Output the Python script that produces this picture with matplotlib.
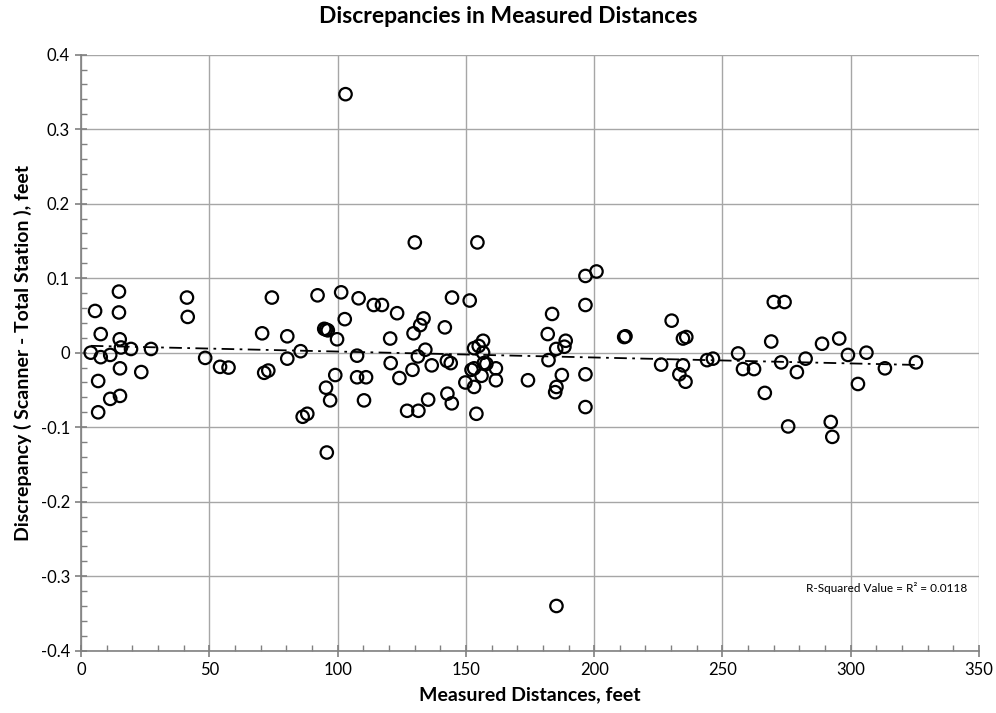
import matplotlib
matplotlib.use("Agg")
import matplotlib.pyplot as plt
import numpy as np
from matplotlib.ticker import MultipleLocator

# measured distance (ft) and scanner - total station discrepancy (ft)
distance = [
    5.5, 14.8, 14.8, 7.7, 15.1, 3.8, 7.7, 11.4, 15.6, 19.5, 27.3, 15.2, 23.5, 6.7, 11.4,
    15.2, 6.7, 41.3, 41.6, 48.4, 54.2, 57.5, 74.4, 70.6, 80.4, 80.4, 71.4, 73.0, 85.6,
    86.4, 88.2, 92.2, 101.4, 108.2, 114.1, 117.3, 123.2, 144.6, 151.5, 102.8, 133.5,
    132.2, 129.6, 141.8, 94.8, 95.5, 96.2, 99.8, 120.5, 107.6, 134.2, 131.3, 120.7,
    136.7, 142.6, 144.1, 129.2, 124.1, 99.1, 107.6, 111.1, 95.5, 97.1, 110.3, 135.3,
    142.8, 144.5, 127.1, 131.5, 95.8, 103.1, 130.1, 154.5, 149.8, 153.2, 154.1, 156.1,
    152.2, 153.2, 153.2, 155.0, 156.7, 156.7, 157.0, 158.0, 161.7, 161.7, 196.6, 200.9,
    196.6, 183.6, 181.9, 188.9, 188.4, 185.2, 182.2, 187.4, 196.6, 174.2, 185.3, 184.8,
    196.6, 185.3, 212.2, 211.7, 230.2, 234.6, 235.9, 226.1, 234.6, 233.2, 235.6, 244.0,
    246.3, 256.1, 258.0, 262.3, 266.5, 270.0, 274.2, 269.0, 272.9, 279.0, 282.4, 275.6,
    288.8, 295.5, 298.9, 306.1, 292.2, 292.8, 302.8, 313.3, 325.4,
]
discrepancy = [
    0.056, 0.082, 0.054, 0.025, 0.018, 0.000, -0.006, -0.003, 0.007, 0.005, 0.005, -0.021,
    -0.026, -0.038, -0.062, -0.058, -0.080, 0.074, 0.048, -0.007, -0.019, -0.020, 0.074,
    0.026, 0.022, -0.008, -0.027, -0.024, 0.002, -0.086, -0.082, 0.077, 0.081, 0.073,
    0.064, 0.064, 0.053, 0.074, 0.070, 0.045, 0.046, 0.037, 0.026, 0.034, 0.032, 0.031,
    0.030, 0.018, 0.019, -0.004, 0.004, -0.005, -0.014, -0.017, -0.011, -0.014, -0.023,
    -0.034, -0.030, -0.033, -0.033, -0.047, -0.064, -0.064, -0.063, -0.055, -0.068,
    -0.078, -0.078, -0.134, 0.347, 0.148, 0.148, -0.040, -0.046, -0.082, -0.031, -0.023,
    -0.021, 0.006, 0.009, 0.016, 0.000, -0.014, -0.015, -0.021, -0.037, 0.103, 0.109,
    0.064, 0.052, 0.025, 0.016, 0.008, 0.005, -0.010, -0.030, -0.029, -0.037, -0.046,
    -0.053, -0.073, -0.340, 0.022, 0.021, 0.043, 0.019, 0.021, -0.016, -0.017, -0.029,
    -0.039, -0.010, -0.008, -0.001, -0.022, -0.022, -0.054, 0.068, 0.068, 0.015, -0.013,
    -0.026, -0.008, -0.099, 0.012, 0.019, -0.003, 0.000, -0.093, -0.113, -0.042, -0.021,
    -0.013,
]
r2_label = "R-Squared Value = R\u00b2 = 0.0118"

plt.rcParams["font.family"] = ["Lato", "DejaVu Sans"]

x = np.array(distance)
y = np.array(discrepancy)

fig = plt.figure(figsize=(9.96, 7.13), dpi=100)
ax = fig.add_axes([0.0813, 0.0874, 0.9017, 0.8359])

grid_c = "#a6a6a6"
ax.grid(True, which="major", color=grid_c, lw=1.0)
ax.set_axisbelow(True)

ax.scatter(x, y, s=80, facecolors="none", edgecolors="black", linewidths=1.6, zorder=3)

# linear trend line, as the spreadsheet draws it
slope, icpt = np.polyfit(x, y, 1)
xs = np.array([x.min(), x.max()])
ax.plot(xs, icpt + slope * xs, color="black", lw=1.3, ls=(0, (7, 3, 1.5, 3)), zorder=2)

ax.set_xlim(0, 350)
ax.set_ylim(-0.4, 0.4)
ax.xaxis.set_major_locator(MultipleLocator(50))
ax.xaxis.set_minor_locator(MultipleLocator(10))
ax.yaxis.set_major_locator(MultipleLocator(0.1))
ax.yaxis.set_minor_locator(MultipleLocator(0.02))
ax.yaxis.set_major_formatter(lambda v, _: "0" if abs(v) < 1e-9 else f"{v:.1f}")
ax.tick_params(which="major", direction="inout", length=8, width=1.2, color="#808080",
               labelsize=12, pad=4)
ax.tick_params(which="minor", direction="in", length=4, width=1.0, color="#808080")
for side in ("top", "right"):
    ax.spines[side].set_visible(False)
for side in ("left", "bottom"):
    ax.spines[side].set_color("#808080")
    ax.spines[side].set_linewidth(1.2)

ax.set_xlabel("Measured Distances, feet", fontsize=14, fontweight="bold", labelpad=6)
ax.set_ylabel("Discrepancy ( Scanner - Total Station ), feet", fontsize=14,
              fontweight="bold", labelpad=6)
fig.suptitle("Discrepancies in Measured Distances", fontsize=16.5, fontweight="bold",
             x=0.51, y=0.992)
ax.text(0.987, 0.105, r2_label, transform=ax.transAxes, ha="right", va="center",
        fontsize=8.5)

fig.savefig("out.png", dpi=100)
